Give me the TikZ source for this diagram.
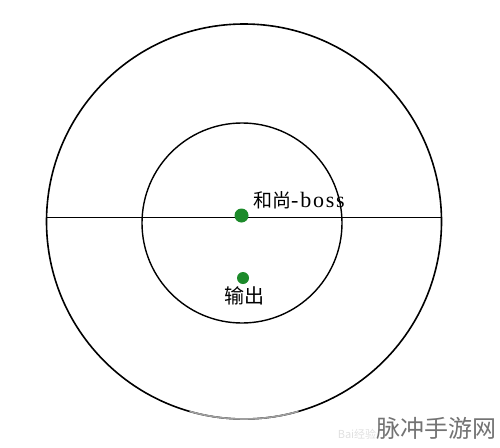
\documentclass[tikz,border=0pt]{standalone}
\usepackage{fontspec}
\setmainfont{Liberation Serif}
\newfontfamily\cjk{Noto Sans CJK SC}
\definecolor{dotgreen}{RGB}{28,138,42}

\begin{document}
\begin{tikzpicture}[x=1pt, y=-1pt,
    dot/.style={circle, fill=dotgreen, inner sep=0pt, minimum size=14pt},
    lbl/.style={inner sep=0pt, font=\fontsize{19}{19}\selectfont}]
  \useasboundingbox (0,0) rectangle (500,447);
  \pgfmathsetmacro{\R}{197.5}
  \pgfmathsetmacro{\r}{100}
  \coordinate (outerc) at (244,221.5);
  \coordinate (innerc) at (242,223);
  % circles
  \draw[line width=1.6pt] (outerc) circle[radius=\R];
  \draw[gray!75, line width=1.6pt] ([shift={(74:\R)}]outerc) arc[start angle=74, end angle=106, radius=\R];
  \draw[line width=1.4pt] (innerc) circle[radius=\r];
  % diameter
  \coordinate (west) at (47,217.5);
  \coordinate (east) at (441,217.5);
  \draw[line width=1.2pt] (west) -- (east);
  % dots and labels
  \node[dot] (boss) at (241.5,215.5) {};
  \node[dot, minimum size=12pt] (output) at (243,278) {};
  \node[lbl, anchor=west] (bosslabel) at (253,200) {{\cjk 和尚}{\fontsize{22}{22}\selectfont\addfontfeatures{LetterSpace=8}-boss}};
  \node[lbl, font=\fontsize{20}{20}\selectfont] (outputlabel) at (244,296) {\cjk 输出};
  % watermarks
  \node[black!55, inner sep=0pt, font=\cjk\fontsize{24}{24}\selectfont] (mark) at (436,428) {脉冲手游网};
  \node[black!12, inner sep=0pt, font=\cjk\fontsize{11}{11}\selectfont] (baidu) at (357,434) {Bai经验};
\end{tikzpicture}
\end{document}
